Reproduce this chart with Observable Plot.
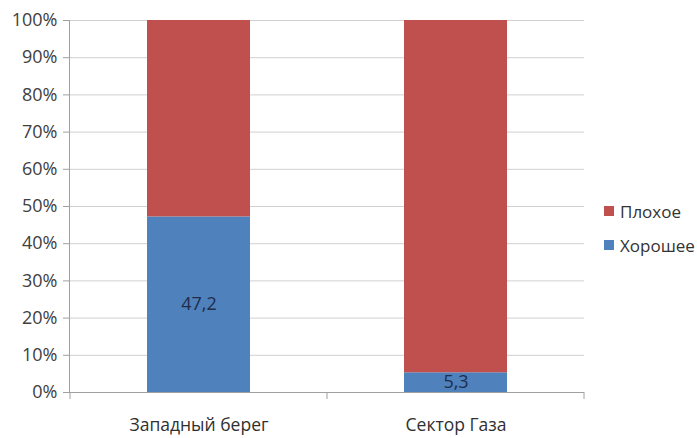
<!DOCTYPE html>
<html><head><meta charset="utf-8">
<script src="https://cdn.jsdelivr.net/npm/d3@7"></script>
<script src="https://cdn.jsdelivr.net/npm/@observablehq/plot@0.6"></script>
<style>
body{margin:0;background:#fff;font-family:"Open Sans",sans-serif;}
#wrap{position:relative;width:697px;height:438px;}
#legend{position:absolute;left:604px;top:194px;font-size:17px;color:#333;}
#legend div{display:flex;align-items:center;height:34px;}
#legend span.sw{display:inline-block;width:10px;height:10px;margin-right:6px;}
</style></head>
<body><div id="wrap"><div id="legend"></div></div>
<script>
const regions = ["Западный берег", "Сектор Газа"];
const good = [47.2, 5.3];
const bad = [52.8, 94.7];
const seriesNames = ["Хорошее", "Плохое"];
const colors = ["#4F81BD", "#C0504D"];
const labels = ["47,2", "5,3"];
const yTicks = [0,10,20,30,40,50,60,70,80,90,100];

const rows = [];
regions.forEach((r,i)=>{
  rows.push({region:r, series:seriesNames[0], value:good[i], label:labels[i]});
  rows.push({region:r, series:seriesNames[1], value:bad[i], label:""});
});

// tick marks between categories, derived from the x band scale
function bandDividers(index, scales, values, dim) {
  const g = d3.create("svg:g");
  const x = scales.x, step = x.step();
  const y0 = dim.height - dim.marginBottom;
  const pts = [];
  regions.forEach(r => { pts.push(x(r) - (step - x.bandwidth())/2); });
  pts.push(x(regions[regions.length-1]) + x.bandwidth() + (step - x.bandwidth())/2);
  for (const p of pts) g.append("line").attr("x1",p).attr("x2",p).attr("y1",y0).attr("y2",y0+7).attr("stroke","#A0A0A0");
  return g.node();
}

const chart = Plot.plot({
  width: 697, height: 438,
  marginLeft: 69, marginRight: 113, marginTop: 20, marginBottom: 46,
  style: {fontFamily: "Open Sans, sans-serif", fontSize: "18px", color: "#404040", background: "#fff"},
  x: {domain: regions, paddingInner: 0.6, paddingOuter: 0.3, label: null, axis: null},
  y: {domain: [0,100], label: null, axis: null},
  color: {domain: seriesNames, range: colors},
  marks: [
    Plot.gridY(yTicks, {stroke: "#D0D0D0", strokeOpacity: 1}),
    Plot.axisY(yTicks, {tickFormat: d => d + "%", tickSize: 6, stroke: "#A0A0A0", tickPadding: 6, fontSize: 18, fill: "#404040", label: null}),
    Plot.frame({anchor: "left", stroke: "#A0A0A0"}),
    Plot.barY(rows, Plot.stackY({x: "region", y: "value", z: "series", fill: "series", order: seriesNames})),
    Plot.text(rows, Plot.stackY({x: "region", y: "value", z: "series", text: "label", order: seriesNames, fill: "#1F2D4A", fontSize: 18})),
    Plot.axisX(regions, {tickSize: 0, tickPadding: 26, fontSize: 17.5, fill: "#303030", label: null}),
    Plot.ruleY([0], {stroke: "#A0A0A0"}),
    bandDividers
  ]
});
const wrap = document.getElementById("wrap");
wrap.insertBefore(chart, wrap.firstChild);
chart.style.position = "absolute"; chart.style.left = "0"; chart.style.top = "0";
const leg = document.getElementById("legend");
[1,0].forEach(i => {
  const d = document.createElement("div");
  d.innerHTML = `<span class="sw" style="background:${colors[i]}"></span>${seriesNames[i]}`;
  leg.appendChild(d);
});
</script></body></html>
